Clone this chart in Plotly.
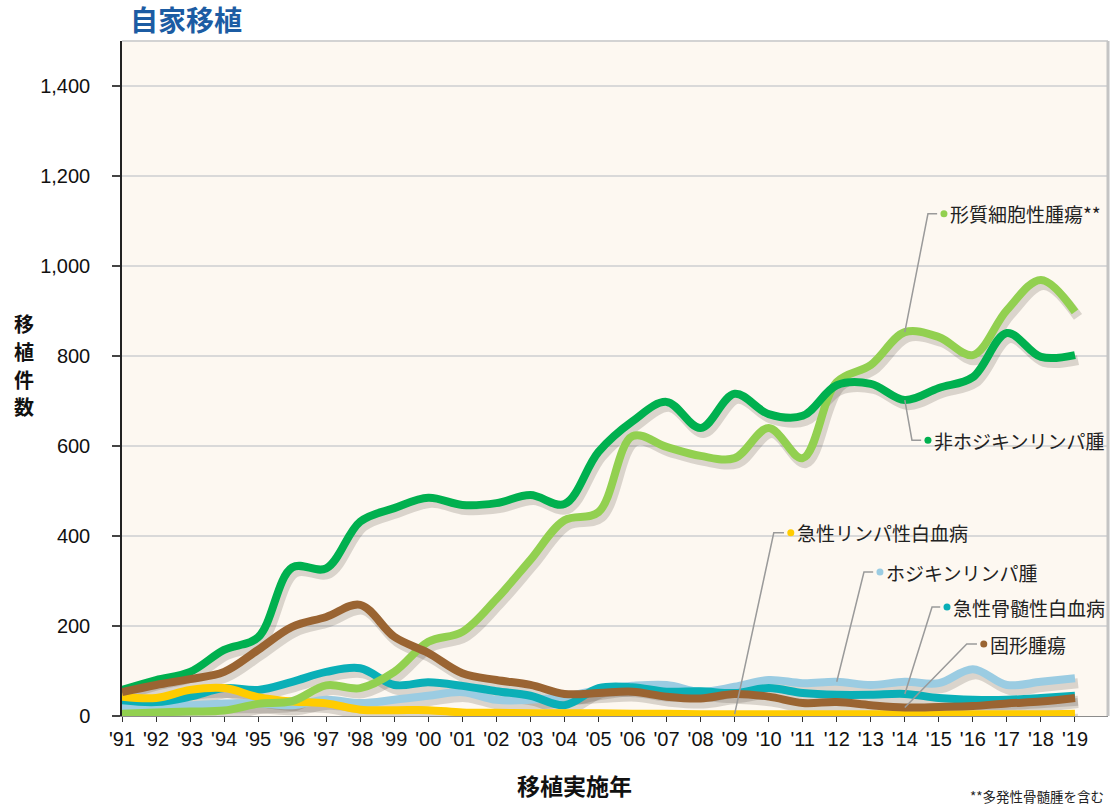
import plotly.graph_objects as go

years = list(range(1991, 2020))
year_labels = ["'" + str(y)[2:] for y in years]

# 自家移植 件数 (読み取り値)
nhl = [58, 80, 98, 147, 175, 330, 328, 432, 462, 485, 469, 473, 491, 471, 587,
       655, 698, 640, 716, 671, 667, 735, 738, 702, 729, 753, 851, 798, 802]
mm = [5, 8, 10, 12, 27, 33, 68, 62, 98, 165, 187, 260, 347, 435, 453,
      622, 598, 578, 573, 640, 573, 742, 780, 853, 842, 802, 902, 969, 898]
st = [53, 69, 82, 98, 147, 198, 220, 247, 176, 140, 95, 80, 69, 49, 51,
      54, 43, 39, 49, 43, 29, 31, 24, 19, 20, 22, 28, 32, 40]
aml = [35, 31, 43, 62, 58, 76, 98, 106, 69, 75, 67, 55, 45, 24, 62,
       64, 54, 55, 51, 62, 51, 47, 47, 49, 40, 36, 36, 40, 45]
hl = [18, 21, 24, 28, 28, 24, 36, 29, 36, 45, 53, 36, 36, 43, 58,
      67, 69, 54, 65, 80, 73, 76, 69, 76, 73, 104, 69, 76, 84]
all_ = [43, 40, 58, 62, 42, 32, 28, 14, 13, 13, 8, 7, 6, 6, 6,
        5, 5, 4, 4, 4, 4, 4, 4, 4, 4, 4, 4, 4, 5]

# draw order: bottom -> top
series = [
    ("ホジキンリンパ腫", hl, "#9BCCE2"),
    ("急性骨髄性白血病", aml, "#0AAFB7"),
    ("急性リンパ性白血病", all_, "#FFCC00"),
    ("形質細胞性腫瘍**", mm, "#92D050"),
    ("非ホジキンリンパ腫", nhl, "#00B04F"),
    ("固形腫瘍", st, "#9A6432"),
]

# label: name -> (dot x, label y, corner x, anchor year)
labels = {
    "形質細胞性腫瘍**": (2015.15, 1116, 2014.68, 2014),
    "非ホジキンリンパ腫": (2014.68, 613, 2014.21, 2014),
    "急性リンパ性白血病": (2010.65, 407, 2010.15, 2009),
    "ホジキンリンパ腫": (2013.27, 320, 2012.80, 2012),
    "急性骨髄性白血病": (2015.24, 242, 2014.80, 2014),
    "固形腫瘍": (2016.32, 160, 2015.82, 2014),
}

x0, x1 = 1991, 2019.97
y0, y1 = 0, 1500
dx = 3 / 34.0   # shadow offset in years (~3px)
dy = 5 / 0.45   # shadow offset in units (~5px)

fig = go.Figure()

# shadows on the shifted base axes
for name, vals, col in series:
    fig.add_trace(go.Scatter(x=years, y=vals, mode='lines', line_shape='spline',
                             line=dict(color='rgba(60,50,40,0.18)', width=10),
                             xaxis='x', yaxis='y', hoverinfo='skip'))

for name, vals, col in series:
    fig.add_trace(go.Scatter(x=years, y=vals, mode='lines', name=name, line_shape='spline',
                             line=dict(color=col, width=8),
                             xaxis='x2', yaxis='y2'))

shapes = []
annotations = []
dot_x, dot_y, dot_c = [], [], []
for name, vals, col in series:
    lx, ly, cx, ay = labels[name]
    av = vals[years.index(ay)]
    shapes.append(dict(type='path', xref='x2', yref='y2',
                       path=f"M {ay},{av} L {cx},{ly} L {lx - 0.2},{ly}",
                       line=dict(color='#9A9A9A', width=1.5)))
    dot_x.append(lx)
    dot_y.append(ly)
    dot_c.append(col)
    annotations.append(dict(x=lx, y=ly, xref='x2', yref='y2', text=name, showarrow=False,
                            xanchor='left', yanchor='middle', xshift=4,
                            font=dict(family="Noto Sans CJK JP", size=19, color='#222222')))

fig.add_trace(go.Scatter(x=dot_x, y=dot_y, mode='markers', marker=dict(color=dot_c, size=7),
                         xaxis='x2', yaxis='y2', hoverinfo='skip'))

# borders
shapes.append(dict(type='line', xref='paper', yref='paper', x0=0, x1=1, y0=1, y1=1,
                   line=dict(color='#D3D3D3', width=2)))
shapes.append(dict(type='line', xref='paper', yref='paper', x0=1, x1=1, y0=0, y1=1,
                   line=dict(color='#C4C4C4', width=3)))

W, H = 1115, 805
L, R, T, B = 122, 7, 41, 89
pw, ph = W - L - R, H - T - B


def px2paper(px, py):
    return (px - L) / pw, (H - B - py) / ph


def text_at(px, py, text, size, color='#111111', anchor='center'):
    x, y = px2paper(px, py)
    return dict(x=x, y=y, xref='paper', yref='paper', text=text, showarrow=False,
                xanchor=anchor, yanchor='middle',
                font=dict(family="Noto Sans CJK JP", size=size, color=color))


annotations.append(text_at(186, 19, "<b>自家移植</b>", 28, '#1C5CA3'))
for ch, py in zip("移植件数", [323, 351, 379, 407]):
    annotations.append(text_at(24, py, "<b>" + ch + "</b>", 20))
annotations.append(text_at(574, 785, "<b>移植実施年</b>", 23))
annotations.append(text_at(1106, 796, "**多発性骨髄腫を含む", 13.5, '#222222', 'right'))

fig.update_layout(
    width=W, height=H,
    margin=dict(l=L, r=R, t=T, b=B),
    paper_bgcolor='white',
    plot_bgcolor='#FDF8F1',
    showlegend=False,
    xaxis=dict(range=[x0 - dx, x1 - dx], visible=False),
    yaxis=dict(range=[y0 + dy, y1 + dy], visible=False),
    xaxis2=dict(overlaying='x', anchor='y2', range=[x0, x1],
                tickvals=years, ticktext=year_labels,
                ticks='outside', ticklen=5, tickcolor='#333333', tickwidth=1,
                showline=True, linecolor='#8C8C8C', linewidth=1,
                showgrid=False, zeroline=False,
                tickfont=dict(family="Liberation Sans", size=20, color='#111111')),
    yaxis2=dict(overlaying='y', anchor='x2', side='left', range=[y0, y1],
                tickvals=[0, 200, 400, 600, 800, 1000, 1200, 1400],
                tickformat=',d',
                ticks='outside', ticklen=8, tickcolor='#444444', tickwidth=1.5,
                ticklabelstandoff=18,
                showline=True, linecolor='#222222', linewidth=1.5,
                showgrid=True, gridcolor='#D9D9D9', gridwidth=1.5, zeroline=False,
                tickfont=dict(family="Liberation Sans", size=20, color='#111111')),
    shapes=shapes,
    annotations=annotations,
)

fig.write_html("out.html", config={'displayModeBar': False},
               post_script="document.body.style.margin='0';")
